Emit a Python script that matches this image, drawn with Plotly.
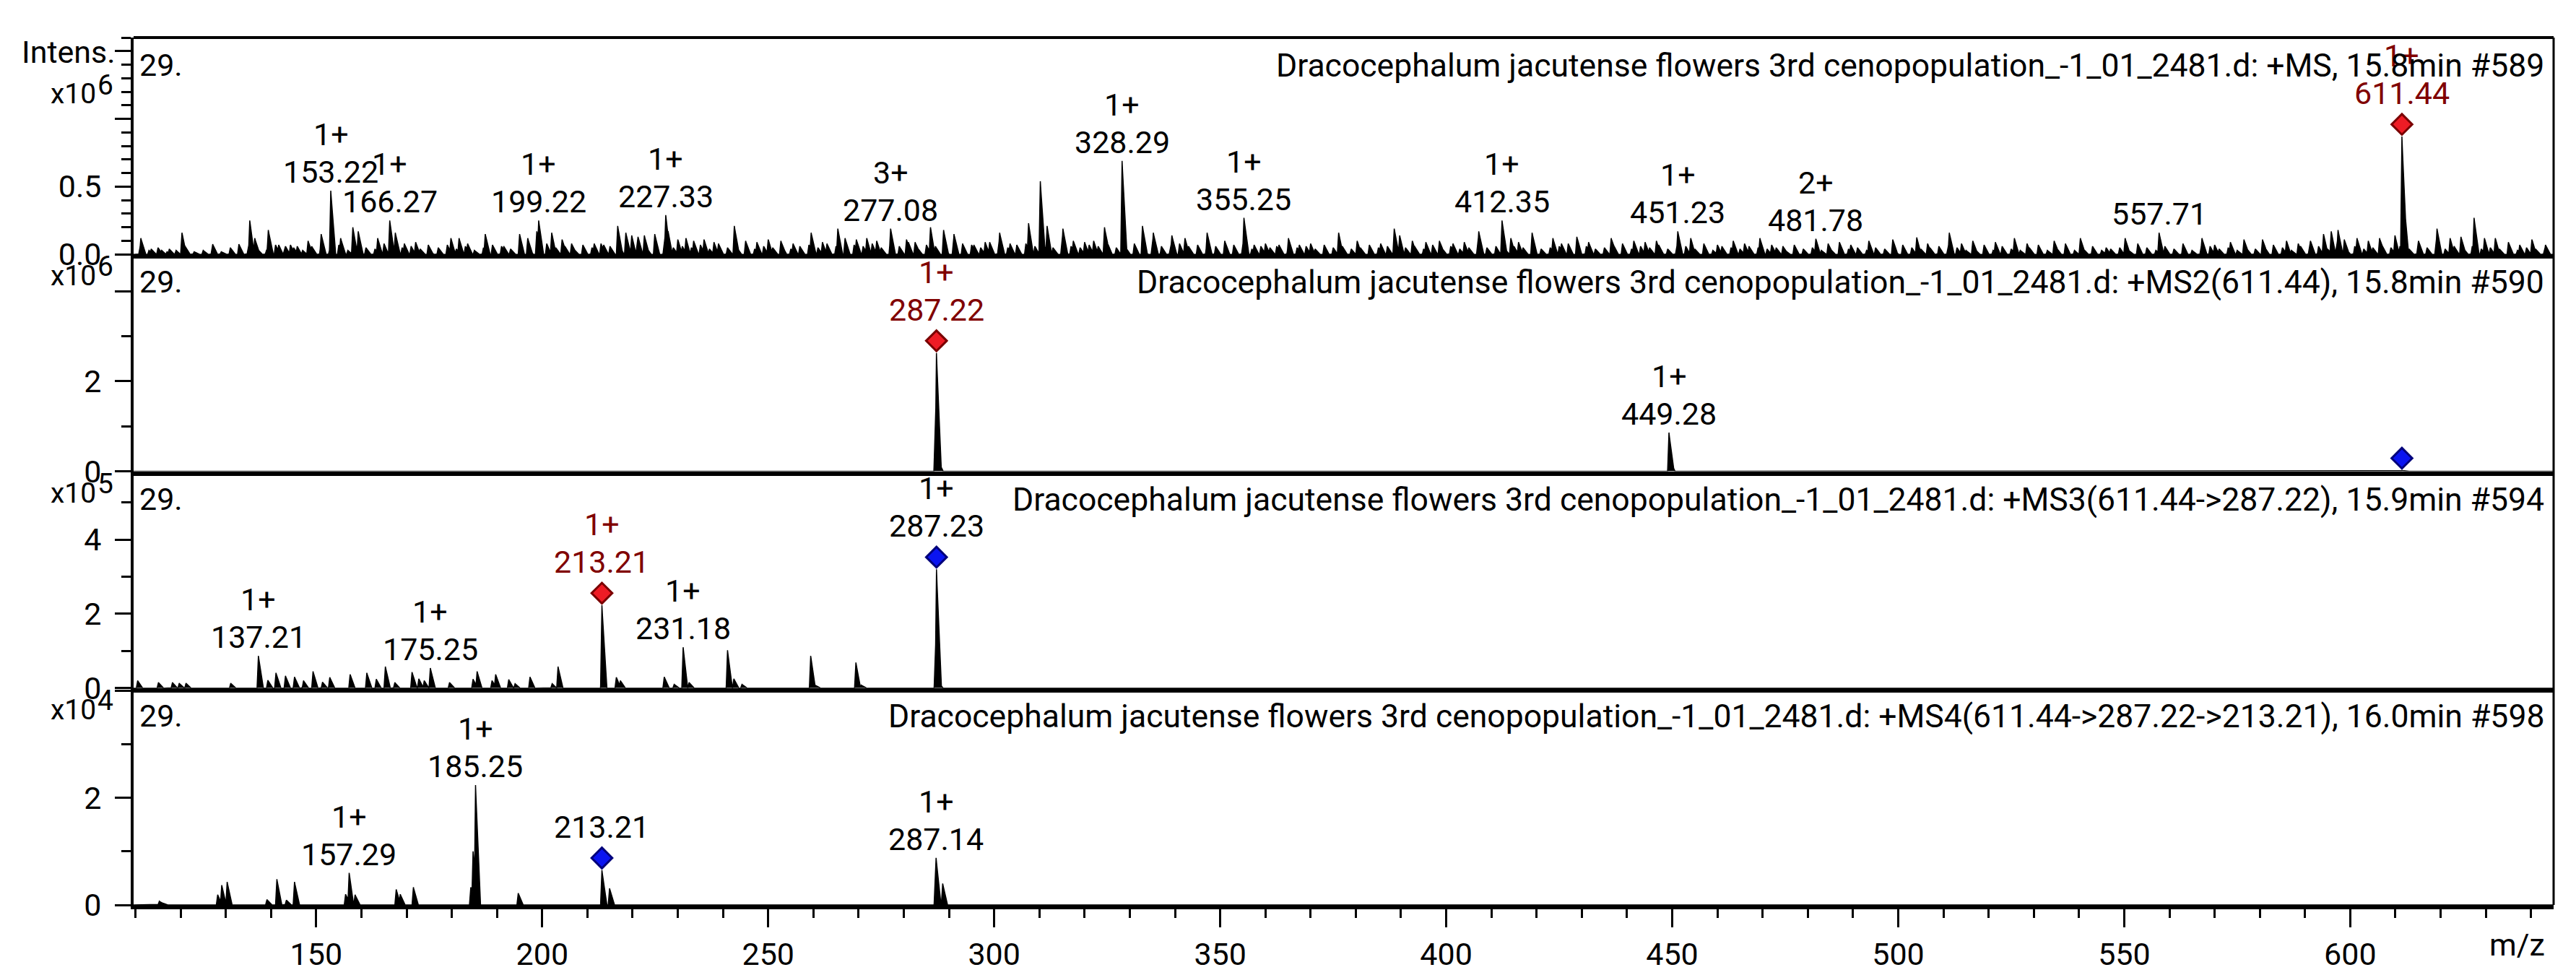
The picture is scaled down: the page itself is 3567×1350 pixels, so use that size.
import numpy as np
import plotly.graph_objects as go

# ---------------- layout constants ----------------
W, H = 3567, 1350
ML, MR, MT, MB = 177, 39, 44, 91
PLOT_W = W - ML - MR
PLOT_H = H - MT - MB
NPANEL = 4
PANEL_H = PLOT_H / NPANEL
FONT = "Roboto, Arial, sans-serif"
RED_TXT = "#800000"

# ---------------- data ----------------
X_RANGE = [109.6, 645.0]
Y_MAX = [1.6, 4.82, 5.84, 4.05]          # in units of 10^exp
EXPONENTS = [6, 6, 5, 4]
PANEL_NUM = ["29.", "29.", "29.", "29."]
TITLES = [
    "Dracocephalum jacutense flowers 3rd cenopopulation_-1_01_2481.d: +MS, 15.8min #589",
    "Dracocephalum jacutense flowers 3rd cenopopulation_-1_01_2481.d: +MS2(611.44), 15.8min #590",
    "Dracocephalum jacutense flowers 3rd cenopopulation_-1_01_2481.d: +MS3(611.44->287.22), 15.9min #594",
    "Dracocephalum jacutense flowers 3rd cenopopulation_-1_01_2481.d: +MS4(611.44->287.22->213.21), 16.0min #598",
]

# y-axis ticks per panel
Y_MAJOR = [[0, 0.5, 1.0, 1.5], [0, 2, 4], [0, 2, 4], [0, 2, 4]]
Y_MAJOR_TEXT = [["0.0", "0.5", "", ""], ["0", "2", ""], ["0", "2", "4"], ["0", "2", ""]]
Y_MINOR = [[0.1, 0.2, 0.3, 0.4, 0.6, 0.7, 0.8, 0.9, 1.1, 1.2, 1.3, 1.4, 1.6],
           [1, 3], [1, 3, 5], [1, 3]]

# ---- Panel 1 : MS ----
ms1_lab_mz = [153.22, 166.27, 199.22, 227.33, 277.08, 328.29, 355.25, 412.35, 451.23, 481.78, 557.71, 611.44]
ms1_lab_int = [0.47, 0.25, 0.25, 0.29, 0.19, 0.69, 0.27, 0.25, 0.17, 0.115, 0.16, 0.87]
ms1_lab_charge = ["1+", "1+", "1+", "1+", "3+", "1+", "1+", "1+", "1+", "2+", "", "1+"]
ms1_noise_mz = [111.2, 113.5, 115.8, 117.5, 120.3, 127.1, 132.9, 135.3, 136.4, 139.4, 141.7, 143.2, 144.3, 145.8,
                148.2, 151.1, 155.4, 158.1, 159.3, 163.6, 167.5, 169.5, 172.0, 174.8, 179.8, 181.6, 183.5, 187.4,
                189.0, 191.5, 195.0, 196.8, 198.8, 202.1, 204.4, 206.5, 209.0, 211.5, 213.6, 216.7, 218.5, 219.8,
                221.2, 222.6, 224.9, 227.8, 230.0, 231.8, 233.5, 235.8, 238.0, 242.5, 245.0, 247.5, 250.0, 252.8,
                255.5, 259.5, 262.0, 265.4, 267.0, 269.5, 271.8, 274.0, 280.6, 282.5, 285.9, 288.8, 291.1,
                293.0, 295.5, 298.0, 301.2, 303.5, 307.6, 310.2, 311.7, 315.2, 317.5, 320.0, 322.0, 324.4, 332.8,
                335.2, 339.3, 342.2, 347.1, 351.0, 357.5, 360.0, 362.5, 365.1, 367.5, 370.0, 373.0, 376.2, 380.3,
                383.0, 385.5, 388.5, 389.7, 392.5, 395.5, 398.5, 401.5, 404.0, 407.2, 414.3, 416.0, 419.0, 423.6,
                425.5, 428.9, 431.5, 436.5, 439.0, 441.5, 444.0, 446.5, 454.1, 457.0, 460.0, 463.5, 466.0, 469.4,
                472.0, 474.5, 477.0, 484.5, 487.0, 489.5, 493.5, 498.8, 501.0, 504.1, 506.5, 511.3, 514.0, 516.5,
                519.0, 521.5, 525.7, 528.5, 531.0, 534.5, 537.0, 540.3, 543.0, 546.0, 550.2, 553.0, 557.8, 563.0,
                567.2, 570.0, 573.5, 576.5, 580.6, 583.0, 585.9, 588.5, 591.2, 594.1, 595.8, 597.3, 598.7, 601.5,
                604.0, 606.5, 609.9, 611.9, 615.1, 619.2, 622.1, 624.5, 627.4, 629.7, 632.1, 635.0, 637.5, 640.2,
                643.2]
ms1_noise_int = [0.12, 0.04, 0.03, 0.04, 0.16, 0.075, 0.075, 0.25, 0.12, 0.18, 0.07, 0.06, 0.07, 0.06,
                 0.10, 0.15, 0.12, 0.20, 0.17, 0.12, 0.16, 0.08, 0.09, 0.07, 0.12, 0.12, 0.08, 0.15,
                 0.07, 0.06, 0.15, 0.12, 0.17, 0.16, 0.11, 0.08, 0.07, 0.08, 0.07, 0.21, 0.16, 0.14,
                 0.13, 0.14, 0.15, 0.18, 0.11, 0.12, 0.10, 0.11, 0.09, 0.21, 0.10, 0.09, 0.11, 0.10,
                 0.08, 0.16, 0.09, 0.19, 0.12, 0.11, 0.12, 0.10, 0.11, 0.09, 0.20, 0.18, 0.15,
                 0.08, 0.07, 0.09, 0.16, 0.08, 0.23, 0.54, 0.21, 0.19, 0.10, 0.09, 0.10, 0.20, 0.21,
                 0.16, 0.14, 0.12, 0.16, 0.10, 0.07, 0.08, 0.06, 0.12, 0.07, 0.08, 0.06, 0.16, 0.10,
                 0.07, 0.08, 0.19, 0.14, 0.10, 0.09, 0.10, 0.08, 0.09, 0.17, 0.12, 0.09, 0.16, 0.12,
                 0.08, 0.13, 0.09, 0.12, 0.08, 0.10, 0.09, 0.10, 0.12, 0.08, 0.07, 0.10, 0.08, 0.12,
                 0.07, 0.06, 0.07, 0.08, 0.09, 0.07, 0.10, 0.11, 0.07, 0.125, 0.08, 0.16, 0.08, 0.10,
                 0.07, 0.09, 0.12, 0.08, 0.07, 0.10, 0.08, 0.12, 0.06, 0.05, 0.12, 0.08, 0.10, 0.08,
                 0.12, 0.07, 0.09, 0.11, 0.11, 0.07, 0.10, 0.08, 0.10, 0.15, 0.17, 0.18, 0.11, 0.12,
                 0.10, 0.12, 0.14, 0.40, 0.10, 0.19, 0.12, 0.13, 0.27, 0.12, 0.12, 0.09, 0.07, 0.11,
                 0.07]
# low-level baseline "grass", one value every 2 m/z starting at 111
ms1_grass_start, ms1_grass_step = 111.0, 2.0
ms1_grass_int = [
    0.04, 0.03, 0.05, 0.02, 0.03, 0.06, 0.02, 0.03, 0.04, 0.02, 0.05, 0.03, 0.06, 0.04, 0.03, 0.07, 0.04, 0.05, 0.03, 0.06,
    0.05, 0.04, 0.07, 0.03, 0.06, 0.05, 0.04, 0.08, 0.03, 0.05, 0.06, 0.04, 0.03, 0.05, 0.07, 0.04, 0.06, 0.03, 0.05, 0.04,
    0.06, 0.04, 0.07, 0.05, 0.03, 0.08, 0.05, 0.06, 0.04, 0.07, 0.05, 0.08, 0.06, 0.09, 0.05, 0.07, 0.06, 0.04, 0.08, 0.05,
    0.06, 0.05, 0.07, 0.04, 0.08, 0.05, 0.06, 0.07, 0.04, 0.06, 0.05, 0.08, 0.04, 0.06, 0.07, 0.05, 0.08, 0.06, 0.05, 0.07,
    0.06, 0.08, 0.05, 0.07, 0.06, 0.09, 0.05, 0.07, 0.06, 0.05, 0.08, 0.06, 0.07, 0.05, 0.09, 0.06, 0.05, 0.07, 0.08, 0.06,
    0.07, 0.05, 0.08, 0.06, 0.05, 0.07, 0.06, 0.09, 0.05, 0.06, 0.08, 0.05, 0.07, 0.06, 0.05, 0.08, 0.06, 0.07, 0.05, 0.06,
    0.05, 0.07, 0.06, 0.04, 0.06, 0.05, 0.07, 0.04, 0.05, 0.06, 0.04, 0.07, 0.05, 0.06, 0.04, 0.05, 0.07, 0.05, 0.06, 0.04,
    0.05, 0.06, 0.04, 0.07, 0.05, 0.06, 0.04, 0.05, 0.07, 0.05, 0.06, 0.04, 0.06, 0.05, 0.07, 0.04, 0.05, 0.06, 0.08, 0.05,
    0.06, 0.04, 0.05, 0.07, 0.05, 0.04, 0.06, 0.05, 0.07, 0.04, 0.05, 0.06, 0.04, 0.05, 0.03, 0.06, 0.05, 0.04, 0.06, 0.05,
    0.04, 0.05, 0.03, 0.06, 0.04, 0.05, 0.03, 0.04, 0.06, 0.04, 0.05, 0.03, 0.05, 0.04, 0.06, 0.03, 0.05, 0.04, 0.05, 0.06,
    0.04, 0.05, 0.03, 0.04, 0.05, 0.03, 0.06, 0.04, 0.03, 0.05, 0.04, 0.03, 0.05, 0.04, 0.03, 0.04, 0.05, 0.03, 0.04, 0.05,
    0.03, 0.04, 0.05, 0.03, 0.06, 0.04, 0.05, 0.03, 0.04, 0.06, 0.04, 0.05, 0.03, 0.05, 0.04, 0.06, 0.04, 0.05, 0.03, 0.06,
    0.05, 0.06, 0.04, 0.07, 0.05, 0.06, 0.04, 0.05, 0.07, 0.05, 0.06, 0.04, 0.06, 0.05, 0.07, 0.04, 0.06, 0.05, 0.06, 0.04,
    0.05, 0.04, 0.06, 0.03, 0.05, 0.04, 0.03]

# ---- Panel 2 : MS2(611.44) ----
ms2_lab_mz = [287.22, 449.28]
ms2_lab_int = [2.63, 0.86]
ms2_lab_charge = ["1+", "1+"]
ms2_noise_mz = [286.95, 287.6, 449.55, 611.44]
ms2_noise_int = [0.95, 0.30, 0.30, 0.02]

# ---- Panel 3 : MS3(611.44->287.22) ----
ms3_lab_mz = [137.21, 175.25, 213.21, 231.18, 287.23]
ms3_lab_int = [0.87, 0.54, 2.23, 1.10, 3.20]
ms3_lab_charge = ["1+", "1+", "1+", "1+", "1+"]
ms3_noise_mz = [110.5, 115.1, 118.2, 119.7, 121.2, 131.1, 139.3, 141.1, 143.2, 145.2, 147.2, 149.3, 151.4,
                153.0, 157.5, 161.2, 163.3, 165.3, 167.4, 171.2, 172.7, 173.9, 179.5, 184.7, 185.6, 188.9,
                189.7, 192.6, 194.0, 197.3, 202.2, 203.5, 216.4, 217.3, 227.0, 229.2, 232.5, 241.0, 242.4,
                244.2, 259.4, 260.4, 269.4, 270.6, 287.0, 287.6]
ms3_noise_int = [0.20, 0.15, 0.15, 0.13, 0.13, 0.13, 0.21, 0.41, 0.33, 0.30, 0.20, 0.45, 0.16,
                 0.29, 0.37, 0.41, 0.24, 0.58, 0.15, 0.43, 0.25, 0.20, 0.15, 0.24, 0.45, 0.20,
                 0.37, 0.23, 0.12, 0.30, 0.12, 0.58, 0.29, 0.20, 0.30, 0.10, 0.15, 1.02, 0.25,
                 0.10, 0.87, 0.08, 0.69, 0.08, 0.88, 0.20]

# ---- Panel 4 : MS4(611.44->287.22->213.21) ----
ms4_lab_mz = [157.29, 185.25, 213.21, 287.14]
ms4_lab_int = [0.60, 2.24, 0.65, 0.88]
ms4_lab_charge = ["1+", "1+", "", "1+"]
ms4_noise_mz = [115.3, 115.9, 128.2, 129.1, 130.3, 139.1, 141.3, 143.4, 145.2, 156.5, 158.6, 167.7,
                168.6, 171.5, 184.2, 184.7, 194.7, 214.9, 287.0, 288.6]
ms4_noise_int = [0.07, 0.04, 0.19, 0.37, 0.43, 0.10, 0.48, 0.09, 0.43, 0.20, 0.19, 0.29,
                 0.20, 0.33, 0.33, 1.00, 0.22, 0.31, 0.65, 0.40]

# precursor (red) and parent (blue) markers per panel
RED_MARK = [[611.44], [287.22], [213.21], []]
BLUE_MARK = [[], [611.44], [287.23], [213.21]]
RED_LABEL = [[611.44], [287.22], [213.21], []]

grass_mz = [ms1_grass_start + ms1_grass_step * k for k in range(len(ms1_grass_int))]
PANELS = [
    dict(lab_mz=ms1_lab_mz, lab_int=ms1_lab_int, charge=ms1_lab_charge,
         mz=ms1_noise_mz + grass_mz, inten=ms1_noise_int + ms1_grass_int),
    dict(lab_mz=ms2_lab_mz, lab_int=ms2_lab_int, charge=ms2_lab_charge,
         mz=ms2_noise_mz, inten=ms2_noise_int),
    dict(lab_mz=ms3_lab_mz, lab_int=ms3_lab_int, charge=ms3_lab_charge,
         mz=ms3_noise_mz, inten=ms3_noise_int),
    dict(lab_mz=ms4_lab_mz, lab_int=ms4_lab_int, charge=ms4_lab_charge,
         mz=ms4_noise_mz, inten=ms4_noise_int),
]

# ---------------- profile builder ----------------
WL, WR = 0.3, 1.0   # peak half widths (left / right), m/z


def profile(mz, inten):
    base = np.arange(X_RANGE[0], X_RANGE[1], 0.04)
    xs = np.unique(np.concatenate([base, np.asarray(mz, float)]))
    ys = np.zeros_like(xs)
    for m, v in zip(mz, inten):
        left = (xs - (m - WL)) / WL
        right = ((m + WR) - xs) / WR
        tri = v * np.clip(np.minimum(left, right), 0, 1)
        ys = np.maximum(ys, tri)
    return xs, ys


fig = go.Figure()
annotations = []
DIAMOND_OFFSET_PX = 17
LBL = 43
TTL = 44.5

for i, p in enumerate(PANELS):
    n = i + 1
    xref = "x" if n == 1 else f"x{n}"
    yref = "y" if n == 1 else f"y{n}"
    all_mz = list(p["lab_mz"]) + list(p["mz"])
    all_int = list(p["lab_int"]) + list(p["inten"])
    xs, ys = profile(all_mz, all_int)
    fig.add_trace(go.Scatter(x=xs, y=ys, xaxis=xref, yaxis=yref, mode="lines",
                             line=dict(color="black", width=1.5), fill="tozeroy",
                             fillcolor="black", hoverinfo="skip", showlegend=False))

    px_per_unit = PANEL_H / Y_MAX[i]
    off = DIAMOND_OFFSET_PX / px_per_unit

    def peak_height(m):
        return max(v for mm, v in zip(all_mz, all_int) if abs(mm - m) < 0.05)

    marked = set()
    for marks, fillc, linec in ((RED_MARK[i], "#EE1C25", "#7A0000"), (BLUE_MARK[i], "#0A14F0", "#00007A")):
        if marks:
            hy = [peak_height(m) + off for m in marks]
            fig.add_trace(go.Scatter(x=marks, y=hy, xaxis=xref, yaxis=yref, mode="markers",
                                     marker=dict(symbol="diamond", size=22, color=fillc,
                                                 line=dict(color=linec, width=3)),
                                     hoverinfo="skip", showlegend=False, cliponaxis=False))
            marked.update(marks)

    for m, v, c in zip(p["lab_mz"], p["lab_int"], p["charge"]):
        has_d = m in marked
        color = RED_TXT if m in RED_LABEL[i] else "black"
        ys_num = 34 if has_d else 0
        annotations.append(dict(text=f"{m:.2f}", x=m, y=v, xref=xref, yref=yref, xanchor="center",
                                yanchor="bottom", yshift=ys_num, showarrow=False, borderpad=0,
                                font=dict(size=LBL, color=color, family=FONT)))
        if c:
            annotations.append(dict(text=c, x=m, y=v, xref=xref, yref=yref, xanchor="center",
                                    yanchor="bottom", yshift=ys_num + 52, showarrow=False, borderpad=0,
                                    font=dict(size=LBL, color=color, family=FONT)))

    dom = f"{yref} domain"
    annotations.append(dict(text=PANEL_NUM[i], x=0, y=1, xref="paper", yref=dom, xanchor="left",
                            yanchor="top", xshift=7, yshift=-12, showarrow=False, borderpad=0,
                            font=dict(size=LBL, color="black", family=FONT)))
    annotations.append(dict(text=TITLES[i], x=1, y=1, xref="paper", yref=dom, xanchor="right",
                            yanchor="top", xshift=-12, yshift=-12, showarrow=False, borderpad=0,
                            font=dict(size=TTL, color="black", family=FONT)))
    # exponent label  x10^n
    d_base = 102 if i == 0 else 54
    d_exp = 90 if i == 0 else 41
    annotations.append(dict(text="x10", x=0, y=1, xref="paper", yref=dom, xanchor="right",
                            yanchor="bottom", xshift=-51, yshift=-d_base, showarrow=False, borderpad=0,
                            font=dict(size=39, color="black", family=FONT)))
    annotations.append(dict(text=str(EXPONENTS[i]), x=0, y=1, xref="paper", yref=dom, xanchor="left",
                            yanchor="bottom", xshift=-51, yshift=-d_exp, showarrow=False, borderpad=0,
                            font=dict(size=39, color="black", family=FONT)))

annotations.append(dict(text="Intens.", x=0, y=1, xref="paper", yref="y domain", xanchor="right",
                        yanchor="top", xshift=-24, yshift=6, showarrow=False, borderpad=0,
                        font=dict(size=LBL, color="black", family=FONT)))
annotations.append(dict(text="m/z", x=1, y=0, xref="paper", yref="paper", xanchor="right",
                        yanchor="top", xshift=-11, yshift=-29, showarrow=False, borderpad=0,
                        font=dict(size=LBL, color="black", family=FONT)))

layout = dict(width=W, height=H, margin=dict(l=ML, r=MR, t=MT, b=MB),
              paper_bgcolor="white", plot_bgcolor="white",
              font=dict(family=FONT, color="black", size=42),
              showlegend=False, annotations=annotations,
              shapes=[dict(type="line", xref="paper", yref="paper", x0=1, x1=1, y0=0, y1=1,
                           line=dict(color="black", width=3)),
                      dict(type="line", xref="paper", yref="paper", x0=0, x1=1, y0=1, y1=1,
                           line=dict(color="black", width=4))])

for i in range(NPANEL):
    n = i + 1
    xa = "xaxis" if n == 1 else f"xaxis{n}"
    ya = "yaxis" if n == 1 else f"yaxis{n}"
    top = 1 - i / NPANEL
    bot = 1 - (i + 1) / NPANEL
    xd = dict(domain=[0, 1], anchor="y" if n == 1 else f"y{n}", range=X_RANGE,
              showline=True, linecolor="black", linewidth=6, showgrid=False, zeroline=False,
              showticklabels=False, ticks="")
    if n > 1:
        xd["matches"] = "x"
    if n == NPANEL:
        xd.update(showticklabels=True, ticks="outside", tickmode="linear", tick0=0, dtick=50,
                  ticklen=25, tickwidth=3, tickcolor="black", tickfont=dict(size=43, family=FONT),
                  minor=dict(ticks="outside", tick0=0, dtick=10, ticklen=12, tickwidth=3,
                             tickcolor="black", showgrid=False))
    layout[xa] = xd
    layout[ya] = dict(domain=[bot, top], anchor="x" if n == 1 else f"x{n}", range=[0, Y_MAX[i]],
                      showline=True, linecolor="black", linewidth=4, showgrid=False, zeroline=False,
                      ticks="outside", ticklen=22, tickwidth=3, tickcolor="black",
                      tickmode="array", tickvals=Y_MAJOR[i], ticktext=Y_MAJOR_TEXT[i],
                      tickfont=dict(size=43, family=FONT), ticklabelstandoff=10,
                      minor=dict(ticks="outside", tickmode="array", tickvals=Y_MINOR[i], ticklen=13,
                                 tickwidth=3, tickcolor="black", showgrid=False))

fig.update_layout(**layout)
fig.write_html("out.html")
